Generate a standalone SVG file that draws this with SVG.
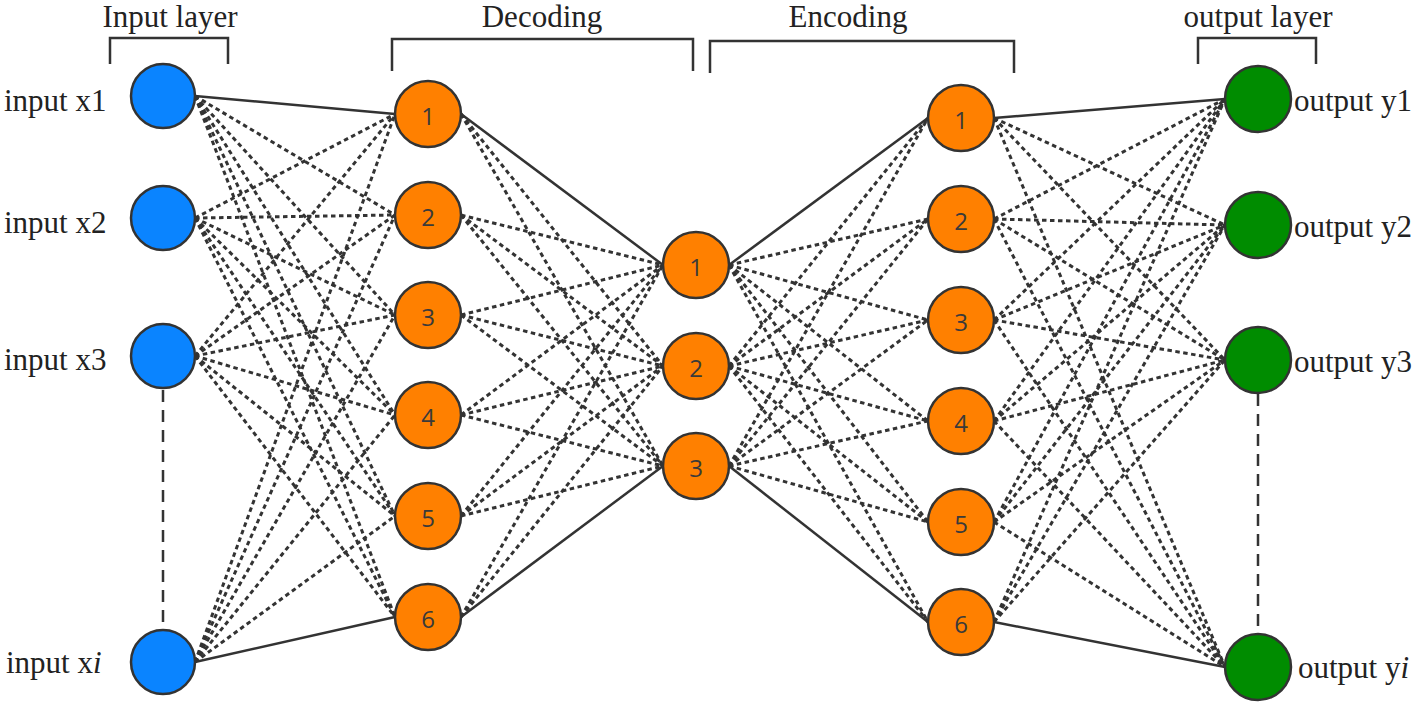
<svg xmlns="http://www.w3.org/2000/svg" width="1418" height="706" viewBox="0 0 1418 706">
<style>
.lbl{font-family:"Liberation Serif","Times New Roman",serif;font-size:31px;fill:#222}
.num{font-family:"Open Sans","DejaVu Sans",sans-serif;font-size:24px;fill:#3a3a3a;text-anchor:middle;dominant-baseline:central}
.br{fill:none;stroke:#333;stroke-width:2.5}
.d{stroke:#333;stroke-width:3;stroke-dasharray:4.5 3.5;fill:none}
.s{stroke:#333;stroke-width:2.5;fill:none}
.v{stroke:#333;stroke-width:2.5;stroke-dasharray:12 8;fill:none}
.nb{fill:#0a84ff;stroke:#333;stroke-width:2.5}
.no{fill:#ff8000;stroke:#333;stroke-width:2.5}
.ng{fill:#008c00;stroke:#333;stroke-width:2.5}
</style>
<rect width="1418" height="706" fill="#fff"/>
<g id="titles">
<text class="lbl" x="170" y="27" text-anchor="middle">Input layer</text>
<text class="lbl" x="542" y="27" text-anchor="middle">Decoding</text>
<text class="lbl" x="848" y="27" text-anchor="middle">Encoding</text>
<text class="lbl" x="1258" y="27" text-anchor="middle">output layer</text>
<path class="br" d="M110,64 V38 H228 V64"/>
<path class="br" d="M392,71 V39 H693 V71"/>
<path class="br" d="M710,73 V41 H1014 V73"/>
<path class="br" d="M1198,64 V38 H1316 V64"/>
</g>
<g id="connectors">
<line class="v" x1="163" y1="390" x2="163" y2="630"/>
<line class="v" x1="1258" y1="394" x2="1258" y2="634"/>
<!-- input -> decoding -->
<line class="s" x1="195" y1="96" x2="395" y2="114"/>
<line class="d" x1="195" y1="96" x2="395" y2="215"/>
<line class="d" x1="195" y1="96" x2="395" y2="315"/>
<line class="d" x1="195" y1="96" x2="395" y2="415"/>
<line class="d" x1="195" y1="96" x2="395" y2="516"/>
<line class="d" x1="195" y1="96" x2="395" y2="617"/>
<line class="d" x1="195" y1="218" x2="395" y2="114"/>
<line class="d" x1="195" y1="218" x2="395" y2="215"/>
<line class="d" x1="195" y1="218" x2="395" y2="315"/>
<line class="d" x1="195" y1="218" x2="395" y2="415"/>
<line class="d" x1="195" y1="218" x2="395" y2="516"/>
<line class="d" x1="195" y1="218" x2="395" y2="617"/>
<line class="d" x1="195" y1="356" x2="395" y2="114"/>
<line class="d" x1="195" y1="356" x2="395" y2="215"/>
<line class="d" x1="195" y1="356" x2="395" y2="315"/>
<line class="d" x1="195" y1="356" x2="395" y2="415"/>
<line class="d" x1="195" y1="356" x2="395" y2="516"/>
<line class="d" x1="195" y1="356" x2="395" y2="617"/>
<line class="d" x1="195" y1="662" x2="395" y2="114"/>
<line class="d" x1="195" y1="662" x2="395" y2="215"/>
<line class="d" x1="195" y1="662" x2="395" y2="315"/>
<line class="d" x1="195" y1="662" x2="395" y2="415"/>
<line class="d" x1="195" y1="662" x2="395" y2="516"/>
<line class="s" x1="195" y1="662" x2="395" y2="617"/>
<!-- decoding -> middle -->
<line class="s" x1="461" y1="114" x2="663" y2="265"/>
<line class="d" x1="461" y1="114" x2="663" y2="366"/>
<line class="d" x1="461" y1="114" x2="663" y2="466"/>
<line class="d" x1="461" y1="215" x2="663" y2="265"/>
<line class="d" x1="461" y1="215" x2="663" y2="366"/>
<line class="d" x1="461" y1="215" x2="663" y2="466"/>
<line class="d" x1="461" y1="315" x2="663" y2="265"/>
<line class="d" x1="461" y1="315" x2="663" y2="366"/>
<line class="d" x1="461" y1="315" x2="663" y2="466"/>
<line class="d" x1="461" y1="415" x2="663" y2="265"/>
<line class="d" x1="461" y1="415" x2="663" y2="366"/>
<line class="d" x1="461" y1="415" x2="663" y2="466"/>
<line class="d" x1="461" y1="516" x2="663" y2="265"/>
<line class="d" x1="461" y1="516" x2="663" y2="366"/>
<line class="d" x1="461" y1="516" x2="663" y2="466"/>
<line class="d" x1="461" y1="617" x2="663" y2="265"/>
<line class="d" x1="461" y1="617" x2="663" y2="366"/>
<line class="s" x1="461" y1="617" x2="663" y2="466"/>
<!-- middle -> encoding -->
<line class="s" x1="729" y1="265" x2="928" y2="118"/>
<line class="d" x1="729" y1="265" x2="928" y2="219"/>
<line class="d" x1="729" y1="265" x2="928" y2="320"/>
<line class="d" x1="729" y1="265" x2="928" y2="421"/>
<line class="d" x1="729" y1="265" x2="928" y2="522"/>
<line class="d" x1="729" y1="265" x2="928" y2="622"/>
<line class="d" x1="729" y1="366" x2="928" y2="118"/>
<line class="d" x1="729" y1="366" x2="928" y2="219"/>
<line class="d" x1="729" y1="366" x2="928" y2="320"/>
<line class="d" x1="729" y1="366" x2="928" y2="421"/>
<line class="d" x1="729" y1="366" x2="928" y2="522"/>
<line class="d" x1="729" y1="366" x2="928" y2="622"/>
<line class="d" x1="729" y1="466" x2="928" y2="118"/>
<line class="d" x1="729" y1="466" x2="928" y2="219"/>
<line class="d" x1="729" y1="466" x2="928" y2="320"/>
<line class="d" x1="729" y1="466" x2="928" y2="421"/>
<line class="d" x1="729" y1="466" x2="928" y2="522"/>
<line class="s" x1="729" y1="466" x2="928" y2="622"/>
<!-- encoding -> output -->
<line class="s" x1="994" y1="118" x2="1225" y2="99"/>
<line class="d" x1="994" y1="118" x2="1225" y2="225"/>
<line class="d" x1="994" y1="118" x2="1225" y2="360"/>
<line class="d" x1="994" y1="118" x2="1225" y2="667"/>
<line class="d" x1="994" y1="219" x2="1225" y2="99"/>
<line class="d" x1="994" y1="219" x2="1225" y2="225"/>
<line class="d" x1="994" y1="219" x2="1225" y2="360"/>
<line class="d" x1="994" y1="219" x2="1225" y2="667"/>
<line class="d" x1="994" y1="320" x2="1225" y2="99"/>
<line class="d" x1="994" y1="320" x2="1225" y2="225"/>
<line class="d" x1="994" y1="320" x2="1225" y2="360"/>
<line class="d" x1="994" y1="320" x2="1225" y2="667"/>
<line class="d" x1="994" y1="421" x2="1225" y2="99"/>
<line class="d" x1="994" y1="421" x2="1225" y2="225"/>
<line class="d" x1="994" y1="421" x2="1225" y2="360"/>
<line class="d" x1="994" y1="421" x2="1225" y2="667"/>
<line class="d" x1="994" y1="522" x2="1225" y2="99"/>
<line class="d" x1="994" y1="522" x2="1225" y2="225"/>
<line class="d" x1="994" y1="522" x2="1225" y2="360"/>
<line class="d" x1="994" y1="522" x2="1225" y2="667"/>
<line class="d" x1="994" y1="622" x2="1225" y2="99"/>
<line class="d" x1="994" y1="622" x2="1225" y2="225"/>
<line class="d" x1="994" y1="622" x2="1225" y2="360"/>
<line class="s" x1="994" y1="622" x2="1225" y2="667"/>
</g>
<g id="in1"><circle class="nb" cx="163" cy="96" r="32"/><text class="lbl" x="4" y="111">input x1</text></g>
<g id="in2"><circle class="nb" cx="163" cy="218" r="32"/><text class="lbl" x="4" y="233">input x2</text></g>
<g id="in3"><circle class="nb" cx="163" cy="356" r="32"/><text class="lbl" x="4" y="370">input x3</text></g>
<g id="ini"><circle class="nb" cx="163" cy="662" r="32"/><text class="lbl" x="6" y="673">input x<tspan font-style="italic">i</tspan></text></g>
<g id="dec1"><circle class="no" cx="428" cy="114" r="33"/><text class="num" x="428" y="115">1</text></g>
<g id="dec2"><circle class="no" cx="428" cy="215" r="33"/><text class="num" x="428" y="216">2</text></g>
<g id="dec3"><circle class="no" cx="428" cy="315" r="33"/><text class="num" x="428" y="316">3</text></g>
<g id="dec4"><circle class="no" cx="428" cy="415" r="33"/><text class="num" x="428" y="416">4</text></g>
<g id="dec5"><circle class="no" cx="428" cy="516" r="33"/><text class="num" x="428" y="517">5</text></g>
<g id="dec6"><circle class="no" cx="428" cy="617" r="33"/><text class="num" x="428" y="618">6</text></g>
<g id="mid1"><circle class="no" cx="696" cy="265" r="33"/><text class="num" x="696" y="266">1</text></g>
<g id="mid2"><circle class="no" cx="696" cy="366" r="33"/><text class="num" x="696" y="367">2</text></g>
<g id="mid3"><circle class="no" cx="696" cy="466" r="33"/><text class="num" x="696" y="467">3</text></g>
<g id="enc1"><circle class="no" cx="961" cy="118" r="33"/><text class="num" x="961" y="119">1</text></g>
<g id="enc2"><circle class="no" cx="961" cy="219" r="33"/><text class="num" x="961" y="220">2</text></g>
<g id="enc3"><circle class="no" cx="961" cy="320" r="33"/><text class="num" x="961" y="321">3</text></g>
<g id="enc4"><circle class="no" cx="961" cy="421" r="33"/><text class="num" x="961" y="422">4</text></g>
<g id="enc5"><circle class="no" cx="961" cy="522" r="33"/><text class="num" x="961" y="523">5</text></g>
<g id="enc6"><circle class="no" cx="961" cy="622" r="33"/><text class="num" x="961" y="623">6</text></g>
<g id="out1"><circle class="ng" cx="1258" cy="99" r="33"/><text class="lbl" x="1294" y="111">output y1</text></g>
<g id="out2"><circle class="ng" cx="1258" cy="225" r="33"/><text class="lbl" x="1294" y="237">output y2</text></g>
<g id="out3"><circle class="ng" cx="1258" cy="360" r="33"/><text class="lbl" x="1294" y="372">output y3</text></g>
<g id="outi"><circle class="ng" cx="1258" cy="667" r="33"/><text class="lbl" x="1298" y="678">output y<tspan font-style="italic">i</tspan></text></g>
</svg>
